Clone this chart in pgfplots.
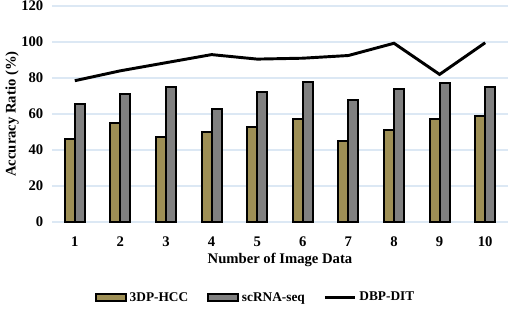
\documentclass[border=0pt]{standalone}
\usepackage{pgfplots}
\pgfplotsset{compat=1.18}
\usepackage{fontspec}
\setmainfont{Liberation Serif}
\definecolor{tanbar}{HTML}{9E8F55}
\definecolor{graybar}{HTML}{808080}
\definecolor{gridblue}{HTML}{DCE8F4}
\begin{document}
\begin{tikzpicture}
\useasboundingbox (-39pt,-64.5pt) rectangle (345pt,166.5pt);
\begin{axis}[
  at={(0,0)}, anchor=south west,
  scale only axis, width=342pt, height=162pt,
  xmin=0.5, xmax=10.5, ymin=0, ymax=120,
  xtick={1,...,10}, ytick={0,20,...,120},
  axis line style={draw=none},
  tick style={draw=none},
  ymajorgrids, grid style={gridblue, line width=0.8pt},
  font=\bfseries,
  tick label style={font=\bfseries\fontsize{11}{13}\selectfont},
  yticklabel style={xshift=-3pt},
  xticklabel style={yshift=-3pt},
  /pgf/number format/assume math mode=true,
  xlabel={Number of Image Data},
  ylabel={Accuracy Ratio (\%)},
  label style={font=\bfseries\fontsize{11}{13}\selectfont},
  xlabel style={yshift=1.5pt},
  ylabel style={yshift=-5pt},
  ybar=0pt, bar width=7.5pt,
  legend style={at={(0.447,-0.35)}, anchor=center, draw=none, legend columns=3,
    font=\bfseries\fontsize{10}{12}\selectfont,
    /tikz/every even column/.append style={column sep=12pt}},
  legend image code/.code={\draw[#1, line width=1.5pt] (0cm,-0.1cm) rectangle (0.8cm,0.1cm);},
]
\addplot[fill=tanbar, draw=black, line width=1.5pt] coordinates {
(1,46) (2,55) (3,47) (4,50) (5,53) (6,57) (7,45) (8,51) (9,57) (10,59)};
\addlegendentry{3DP-HCC}
\addplot[fill=graybar, draw=black, line width=1.5pt] coordinates {
(1,65.5) (2,71) (3,75) (4,63) (5,72) (6,78) (7,68) (8,74) (9,77) (10,75)};
\addlegendentry{scRNA-seq}
\addplot[sharp plot, draw=black, line width=2.2pt, mark=none,
  legend image code/.code={\draw[black, line width=2.2pt] (0cm,0cm) -- (0.8cm,0cm);}] coordinates {
(1,78.5) (2,84) (3,88.5) (4,93) (5,90.5) (6,91) (7,92.5) (8,99.3) (9,82) (10,99.6)};
\addlegendentry{DBP-DIT}
\end{axis}
\end{tikzpicture}
\end{document}
